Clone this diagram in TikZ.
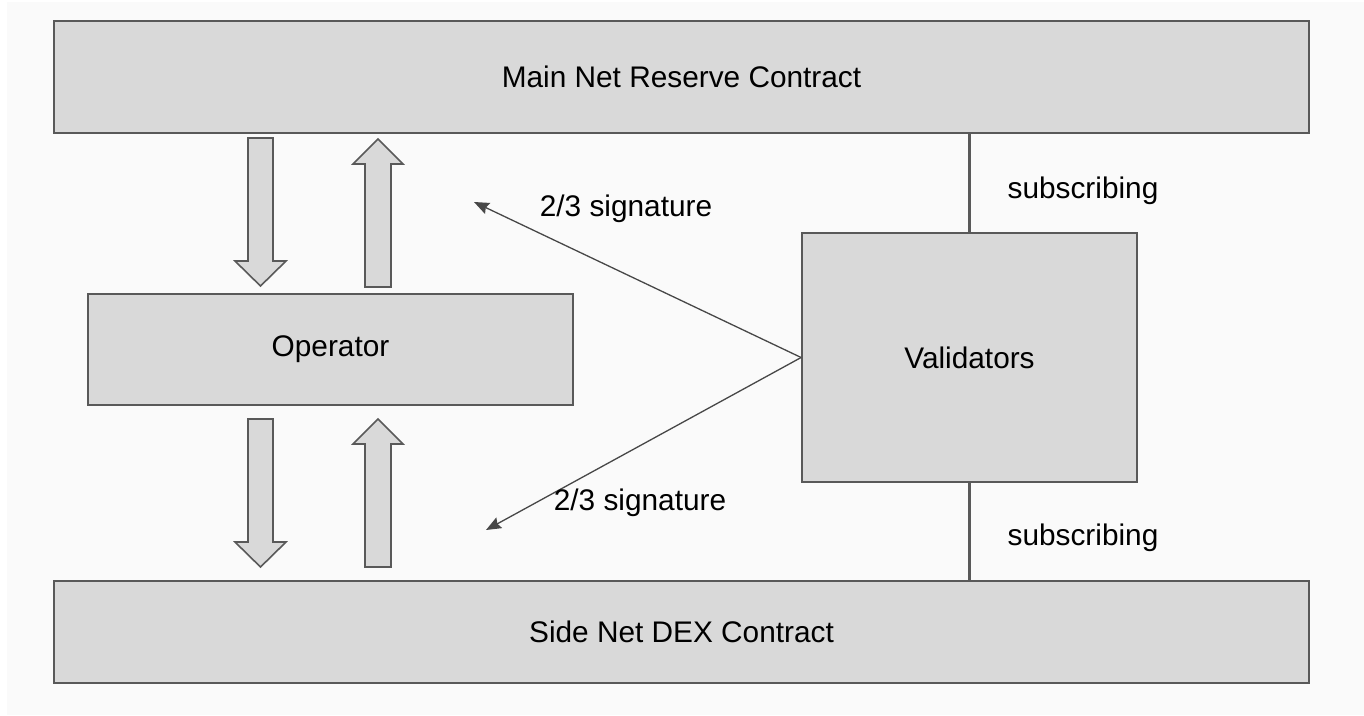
\documentclass[tikz,border=0pt]{standalone}
\usepackage{fontspec}
\setmainfont{Liberation Sans}
\usetikzlibrary{arrows.meta}
\definecolor{boxfill}{HTML}{D9D9D9}
\definecolor{boxline}{HTML}{595959}
\definecolor{linkline}{HTML}{474747}
\definecolor{paper}{HTML}{FAFAFA}
\begin{document}
\begin{tikzpicture}[x=1pt,y=-1pt,
  lbl/.style={font=\fontsize{29.8}{34}\selectfont, text=black, inner sep=0pt},
  block/.style={draw=boxline, line width=1.8pt, fill=boxfill, inner sep=0pt,
    font=\fontsize{29.8}{34}\selectfont},
  bigarrow/.style={draw=boxline, line width=1.6pt, fill=boxfill, line join=miter},
  sigline/.style={draw=linkline, line width=1.3pt,
    -{Stealth[length=15pt,width=12pt,inset=2pt]}},
  subline/.style={draw=boxline, line width=2.4pt}]
  % page and backdrop
  \fill[white] (0,0) rectangle (1364,715);
  \fill[paper] (7,2) rectangle (1364,715);
  \useasboundingbox (0,0) rectangle (1364,715);

  % contracts, operator and validators
  \node[block, minimum width=1255pt, minimum height=112pt] (main) at (681.5,77)
    {Main Net Reserve Contract};
  \node[block, minimum width=1255pt, minimum height=102pt] (side) at (681.5,632)
    {Side Net DEX Contract};
  \node[block, minimum width=485pt, minimum height=111pt] (op) at (330.5,349.5)
    {Operator};
  \node[block, minimum width=335pt, minimum height=249pt] (val) at (969.5,357.5)
    {Validators};

  % subscription links
  \draw[subline] (val.north) -- (val.north |- main.south);
  \draw[subline] (val.south) -- (val.south |- side.north);
  \node[lbl] (subA) at (1083,191) {subscribing};
  \node[lbl] (subB) at (1083,538) {subscribing};

  % signature links
  \coordinate (sigA) at (474,202);
  \coordinate (sigB) at (486,530);
  \draw[sigline] (val.west) -- (sigA);
  \draw[sigline] (val.west) -- (sigB);
  \node[lbl] (sigAtext) at (626,209) {2/3 signature};
  \node[lbl] (sigBtext) at (640,503) {2/3 signature};

  % block arrows between the contracts and the operator
  \draw[bigarrow] (248,138) -- (273,138) -- (273,261) -- (286,261) -- (260.5,286)
    -- (235,261) -- (248,261) -- cycle;
  \draw[bigarrow] (365,287) -- (391,287) -- (391,164) -- (403,164) -- (378,139)
    -- (353,164) -- (365,164) -- cycle;
  \draw[bigarrow] (248,419) -- (273,419) -- (273,542) -- (286,542) -- (260.5,567)
    -- (235,542) -- (248,542) -- cycle;
  \draw[bigarrow] (365,567) -- (391,567) -- (391,444) -- (403,444) -- (378,419)
    -- (353,444) -- (365,444) -- cycle;
\end{tikzpicture}
\end{document}
